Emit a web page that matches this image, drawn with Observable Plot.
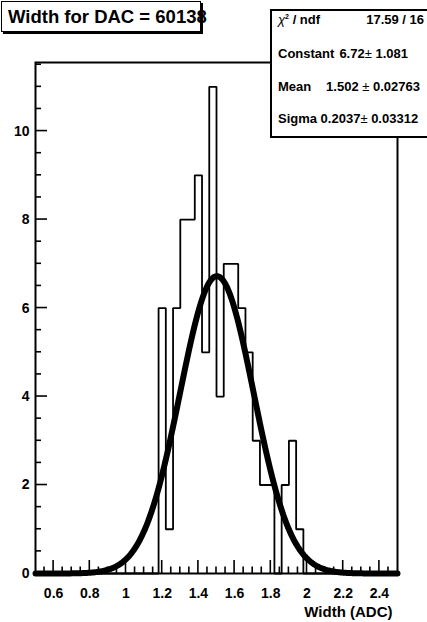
<!DOCTYPE html>
<html>
<head>
<meta charset="utf-8">
<script src="https://cdn.jsdelivr.net/npm/d3@7"></script>
<script src="https://cdn.jsdelivr.net/npm/@observablehq/plot@0.6"></script>
<style>
html, body { margin: 0; padding: 0; background: #fff; overflow: hidden; }
#wrap { position: relative; width: 427px; height: 622px; overflow: hidden; font-family: "Liberation Sans", Arial, Helvetica, sans-serif; font-weight: bold; color: #000; }
#chart { position: absolute; left: 0; top: 0; }
.title { position: absolute; left: 1px; top: 1px; width: 200px; height: 31px; border: 1px solid #000; box-shadow: 2px 2px 0 #000; background: #fff; font-size: 18.5px; line-height: 29px; padding-left: 6px; white-space: nowrap; box-sizing: border-box; }
.stats { position: absolute; left: 270px; top: 9px; width: 170px; height: 129px; border: 2px solid #000; background: #fff; box-sizing: border-box; font-size: 13px; }
.stats span.t { position: absolute; white-space: nowrap; line-height: 14px; }
.pm { font-weight: normal; }
sup { font-size: 7px; vertical-align: 5px; line-height: 0; }
</style>
</head>
<body>
<div id="wrap">
  <div id="chart"></div>
  <div class="title" id="title"></div>
  <div class="stats" id="stats"></div>
</div>
<script>
// ---- data ----
const titleText = "Width for DAC = 60138";
const xAxisLabel = "Width (ADC)";
const xMajorTicks = [0.6, 0.8, 1, 1.2, 1.4, 1.6, 1.8, 2, 2.2, 2.4];
const xTickLabels = ["0.6", "0.8", "1", "1.2", "1.4", "1.6", "1.8", "2", "2.2", "2.4"];
const yMajorTicks = [0, 2, 4, 6, 8, 10];
const yTickLabels = ["0", "2", "4", "6", "8", "10"];
const xDomain = [0.5, 2.5];
const yDomain = [0, 11.55];
const binWidth = 0.04;
const binLowEdges = [1.18, 1.22, 1.26, 1.30, 1.34, 1.38, 1.42, 1.46, 1.50, 1.54,
                     1.58, 1.62, 1.66, 1.70, 1.74, 1.78, 1.82, 1.86, 1.90, 1.94];
const binCounts   = [6, 1, 6, 8, 8, 9, 5, 11, 4, 7,
                     7, 6, 5, 3, 2, 2, 0, 2, 3, 1];
// Gaussian fit parameters shown in the stats box
const fitNames  = ["Constant", "Mean", "Sigma"];
const fitValues = [6.72, 1.502, 0.2037];
const fitErrors = ["1.081", "0.02763", "0.03312"];
const fitValueText = ["6.72", "1.502", "0.2037"];
const chi2Text = "17.59 / 16";

// ---- build tables ----
const histStep = [{x: xDomain[0], y: 0}];
binLowEdges.forEach((lo, i) => histStep.push({x: lo, y: binCounts[i]}));
histStep.push({x: binLowEdges[binLowEdges.length - 1] + binWidth, y: 0});
histStep.push({x: xDomain[1], y: 0});

const [C, M, S] = fitValues;
const fitCurve = d3.range(0, 401).map(i => {
  const x = xDomain[0] + (xDomain[1] - xDomain[0]) * i / 400;
  return {x, y: C * Math.exp(-0.5 * ((x - M) / S) ** 2)};
});

const xMinorTicks = d3.range(0, 41).map(i => xDomain[0] + i * 0.05).filter(v => v > xDomain[0] + 1e-9 && v < xDomain[1] - 1e-9);
const yMinorTicks = d3.range(0, 24).map(i => i * 0.5).filter(v => v < yDomain[1]);

const isMajor = (v, arr) => arr.some(t => Math.abs(t - v) < 1e-6);

function tickMarks(index, scales, values, dimensions) {
  const g = d3.create("svg:g").attr("stroke", "#000").attr("stroke-width", 1.6).attr("fill", "none");
  const yb = dimensions.height - dimensions.marginBottom;
  const xl = dimensions.marginLeft;
  for (const v of xMinorTicks) {
    const px = scales.x(v);
    const len = isMajor(v, xMajorTicks) ? 13 : 6.5;
    g.append("line").attr("x1", px).attr("x2", px).attr("y1", yb).attr("y2", yb - len);
  }
  for (const v of yMinorTicks) {
    const py = scales.y(v);
    const len = isMajor(v, yMajorTicks) ? 12 : 6;
    g.append("line").attr("x1", xl).attr("x2", xl + len).attr("y1", py).attr("y2", py);
  }
  return g.node();
}

const chart = Plot.plot({
  width: 427,
  height: 622,
  marginLeft: 35,
  marginRight: 30,
  marginTop: 62,
  marginBottom: 49,
  style: {fontFamily: "Liberation Sans, Arial, Helvetica, sans-serif", fontSize: "14px", fontWeight: "bold", background: "transparent", color: "#000"},
  x: {domain: xDomain, ticks: xMajorTicks, tickFormat: d => xTickLabels[xMajorTicks.findIndex(t => Math.abs(t - d) < 1e-9)], tickSize: 0, tickPadding: 15, label: null},
  y: {domain: yDomain, ticks: yMajorTicks, tickFormat: d => yTickLabels[yMajorTicks.findIndex(t => Math.abs(t - d) < 1e-9)], tickSize: 0, tickPadding: 6, label: null},
  marks: [
    Plot.line(histStep, {x: "x", y: "y", curve: "step-after", stroke: "#000", strokeWidth: 1.8, strokeLinejoin: "miter"}),
    Plot.line(fitCurve, {x: "x", y: "y", stroke: "#000", strokeWidth: 6}),
    tickMarks,
    Plot.frame({stroke: "#000", strokeWidth: 2}),
    Plot.text([xAxisLabel], {text: d => d, frameAnchor: "bottom-right", dx: -5, dy: 43, textAnchor: "end", fontSize: 15, fontWeight: "bold"})
  ]
});
document.getElementById("chart").appendChild(chart);

document.getElementById("title").textContent = titleText;

const stats = document.getElementById("stats");
function addSpan(html, pos, top) {
  const s = document.createElement("span");
  s.className = "t";
  s.innerHTML = html;
  if (pos.left !== undefined) s.style.left = pos.left + "px";
  if (pos.right !== undefined) s.style.right = pos.right + "px";
  s.style.top = top + "px";
  stats.appendChild(s);
}
addSpan("<span style='font-weight:normal;font-style:italic'>&chi;</span><sup>2</sup> / ndf", {left: 6}, 2);
addSpan(chi2Text, {right: 14}, 2);
addSpan(fitNames[0], {left: 6}, 36);
addSpan(fitValueText[0] + "<span class='pm'>&plusmn;</span> " + fitErrors[0], {right: 30}, 36);
addSpan(fitNames[1], {left: 6}, 69);
addSpan(fitValueText[1] + " <span class='pm'>&plusmn;</span> " + fitErrors[1], {right: 18}, 69);
addSpan(fitNames[2] + " " + fitValueText[2] + "<span class='pm'>&plusmn;</span> " + fitErrors[2], {left: 6}, 101);
</script>
</body>
</html>
